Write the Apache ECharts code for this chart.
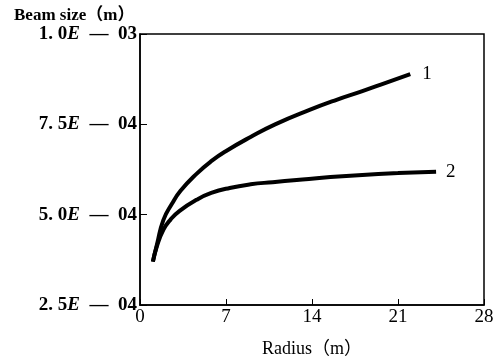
<!DOCTYPE html>
<html>
<head>
<meta charset="utf-8">
<script src="https://cdn.jsdelivr.net/npm/echarts@6/dist/echarts.min.js"></script>
<style>
  html, body { margin: 0; padding: 0; background: #fff; }
  #chart { width: 497px; height: 363px; }
</style>
</head>
<body>
<div id="chart"></div>
<script>
// Datos (radio en m, tamano del haz en m)
const radio1 = [1.05, 1.4, 1.9, 2.6, 3.3, 4.6, 5.8, 7.05, 9, 11, 13.8, 16, 18.1, 20, 22];
const haz1 = [3.7e-4, 4.2e-4, 4.85e-4, 5.3e-4, 5.66e-4, 6.13e-4, 6.48e-4, 6.77e-4, 7.15e-4, 7.5e-4, 7.9e-4, 8.18e-4, 8.42e-4, 8.65e-4, 8.89e-4];

const radio2 = [1.05, 1.36, 1.9, 2.5, 3.2, 4.6, 5.8, 7.3, 9, 10.8, 12.75, 15.5, 18.1, 21, 24.1];
const haz2 = [3.7e-4, 4.11e-4, 4.58e-4, 4.87e-4, 5.1e-4, 5.41e-4, 5.6e-4, 5.74e-4, 5.84e-4, 5.9e-4, 5.96e-4, 6.04e-4, 6.1e-4, 6.15e-4, 6.19e-4];

// Etiquetas del eje Y: [mantisa, exponente]
const etiquetasY = { '0.00025': ['2. 5', '04'], '0.0005': ['5. 0', '04'], '0.00075': ['7. 5', '04'], '0.001': ['1. 0', '03'] };

const fuente = 'Liberation Serif';
const fuenteNombre = "'Liberation Serif', 'Noto Sans CJK SC'";

function pares(xs, ys) {
    return xs.map((x, i) => [x, ys[i]]);
}

const myChart = echarts.init(document.getElementById('chart'));

const option = {
    animation: false,
    grid: {
        left: 140, right: 13, top: 34, bottom: 58,
        show: true, borderColor: '#000', borderWidth: 1.5
    },
    xAxis: {
        type: 'value', min: 0, max: 28, interval: 7,
        name: 'Radius（m）', nameLocation: 'middle', nameGap: 35,
        nameTextStyle: { fontFamily: fuenteNombre, fontSize: 18, color: '#000' },
        axisLine: { lineStyle: { color: '#000', width: 1.5 } },
        axisTick: { inside: true, length: 6, lineStyle: { color: '#000' } },
        axisLabel: { fontFamily: fuente, fontSize: 19, color: '#000', margin: 3 },
        splitLine: { show: false }
    },
    yAxis: {
        type: 'value', min: 0.00025, max: 0.001, interval: 0.00025,
        name: 'Beam size（m）', nameLocation: 'end', nameGap: 8,
        nameTextStyle: { fontFamily: fuenteNombre, fontSize: 17, fontWeight: 'bold', color: '#000', align: 'left', padding: [0, 0, 0, -126] },
        axisLine: { lineStyle: { color: '#000', width: 1.5 } },
        axisTick: { inside: true, length: 7, lineStyle: { color: '#000' } },
        axisLabel: {
            color: '#000', margin: 3,
            formatter: function (v) {
                const e = etiquetasY[String(+v.toPrecision(6))];
                return e ? '{n|' + e[0] + '}{e|E}{n|  —  ' + e[1] + '}' : '';
            },
            rich: {
                n: { fontFamily: fuente, fontSize: 19, fontWeight: 'bold', color: '#000' },
                e: { fontFamily: fuente, fontSize: 19, fontWeight: 'bold', fontStyle: 'italic', color: '#000' }
            }
        },
        splitLine: { show: false }
    },
    series: [
        {
            type: 'line', smooth: 0.5, symbol: 'none',
            data: pares(radio1, haz1),
            lineStyle: { color: '#000', width: 4 },
            endLabel: { show: true, formatter: '1', fontFamily: fuente, fontSize: 19, color: '#000', distance: 12 }
        },
        {
            type: 'line', smooth: 0.5, symbol: 'none',
            data: pares(radio2, haz2),
            lineStyle: { color: '#000', width: 4 },
            endLabel: { show: true, formatter: '2', fontFamily: fuente, fontSize: 19, color: '#000', distance: 10 }
        }
    ]
};

myChart.setOption(option);
</script>
</body>
</html>
